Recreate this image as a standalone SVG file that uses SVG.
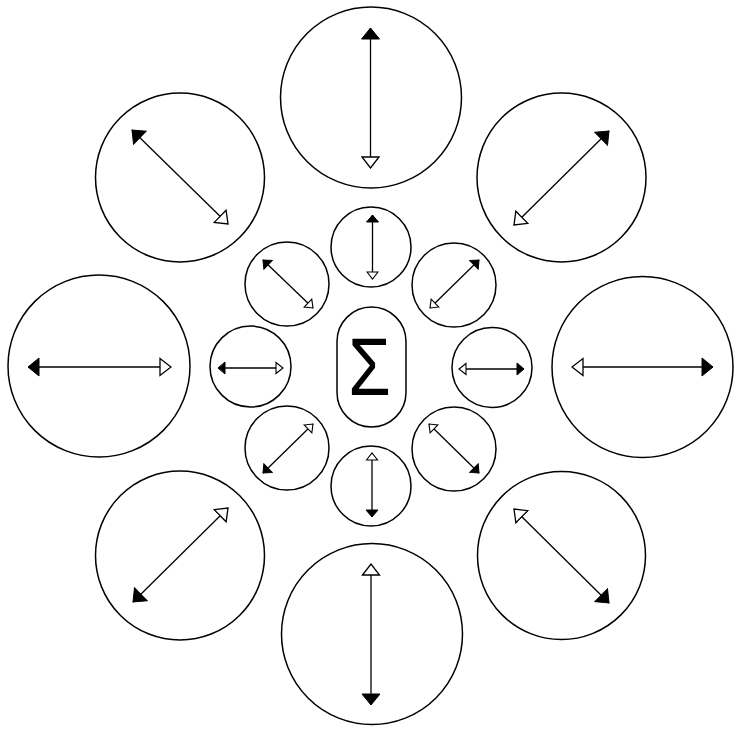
<svg xmlns="http://www.w3.org/2000/svg" width="736" height="730" viewBox="0 0 736 730">
<style>
.c{fill:#fff;stroke:#000;stroke-width:1.5}
.a{stroke:#000;stroke-width:1.3;fill:none}
.L{marker-start:url(#fL);marker-end:url(#oL)}
.S{marker-start:url(#fS);marker-end:url(#oS)}
.sig{font-family:"Liberation Sans","DejaVu Sans",sans-serif;font-size:82px;fill:#000}
</style>
<defs>
<marker id="fL" markerUnits="userSpaceOnUse" viewBox="0 0 13 20" markerWidth="13" markerHeight="20" refX="12" refY="10" orient="auto-start-reverse"><path d="M1,1 L12,10 L1,19 z" fill="#000" stroke="#000" stroke-width="1"/></marker>
<marker id="oL" markerUnits="userSpaceOnUse" viewBox="0 0 13 20" markerWidth="13" markerHeight="20" refX="12" refY="10" orient="auto"><path d="M1,1.5 L12,10 L1,18.5 z" fill="#fff" stroke="#000" stroke-width="1.3"/></marker>
<marker id="fS" markerUnits="userSpaceOnUse" viewBox="0 0 9 14" markerWidth="9" markerHeight="14" refX="8" refY="7" orient="auto-start-reverse"><path d="M1,1 L8,7 L1,13 z" fill="#000" stroke="#000" stroke-width="1"/></marker>
<marker id="oS" markerUnits="userSpaceOnUse" viewBox="0 0 9 14" markerWidth="9" markerHeight="14" refX="8" refY="7" orient="auto"><path d="M1,1.5 L8,7 L1,12.5 z" fill="#fff" stroke="#000" stroke-width="1.1"/></marker>
</defs>

<g id="center"><rect class="c" x="337" y="307" width="69" height="120" rx="34.5" ry="34.5"/><text class="sig" text-anchor="middle" transform="translate(369.5,395) scale(0.84,1)">Σ</text></g>

<g id="small-top"><circle class="c" cx="371" cy="247" r="40"/></g>
<g id="small-bottom"><circle class="c" cx="371" cy="486" r="40"/></g>
<g id="small-left"><circle class="c" cx="250.5" cy="366.5" r="40.5"/></g>
<g id="small-right"><circle class="c" cx="492" cy="367.5" r="40"/></g>
<g id="small-ul"><circle class="c" cx="287" cy="284" r="42"/></g>
<g id="small-ur"><circle class="c" cx="454" cy="285" r="42"/></g>
<g id="small-ll"><circle class="c" cx="287" cy="448" r="42"/></g>
<g id="small-lr"><circle class="c" cx="454" cy="449" r="42"/></g>

<g id="large-top"><circle class="c" cx="371" cy="97.5" r="90.5"/></g>
<g id="large-bottom"><circle class="c" cx="372" cy="634" r="90.5"/></g>
<g id="large-left"><circle class="c" cx="99" cy="366" r="91"/></g>
<g id="large-right"><circle class="c" cx="642.5" cy="367" r="90.5"/></g>
<g id="large-ul"><circle class="c" cx="180" cy="177.5" r="84.5"/></g>
<g id="large-ur"><circle class="c" cx="561.5" cy="177.5" r="84.5"/></g>
<g id="large-ll"><circle class="c" cx="180" cy="555.5" r="84.5"/></g>
<g id="large-lr"><circle class="c" cx="561.5" cy="555.5" r="84"/></g>

<g id="connectors">
<line class="a L" x1="370.5" y1="28" x2="370.5" y2="168"/>
<line class="a L" x1="371" y1="705" x2="371" y2="564"/>
<line class="a L" x1="28" y1="367" x2="171" y2="367"/>
<line class="a L" x1="713" y1="367" x2="572" y2="367"/>
<line class="a L" x1="132" y1="130" x2="228" y2="224"/>
<line class="a L" x1="609" y1="131" x2="514" y2="225"/>
<line class="a L" x1="133" y1="602" x2="228" y2="508"/>
<line class="a L" x1="609" y1="603" x2="514" y2="509"/>
<line class="a S" x1="372.5" y1="215" x2="372.5" y2="279"/>
<line class="a S" x1="372" y1="517" x2="372" y2="453"/>
<line class="a S" x1="218" y1="368" x2="283" y2="368"/>
<line class="a S" x1="524" y1="369" x2="459" y2="369"/>
<line class="a S" x1="263" y1="260" x2="313" y2="308"/>
<line class="a S" x1="479" y1="260" x2="430" y2="308"/>
<line class="a S" x1="263" y1="473" x2="313" y2="424"/>
<line class="a S" x1="479" y1="473" x2="429" y2="424"/>
</g>
</svg>
